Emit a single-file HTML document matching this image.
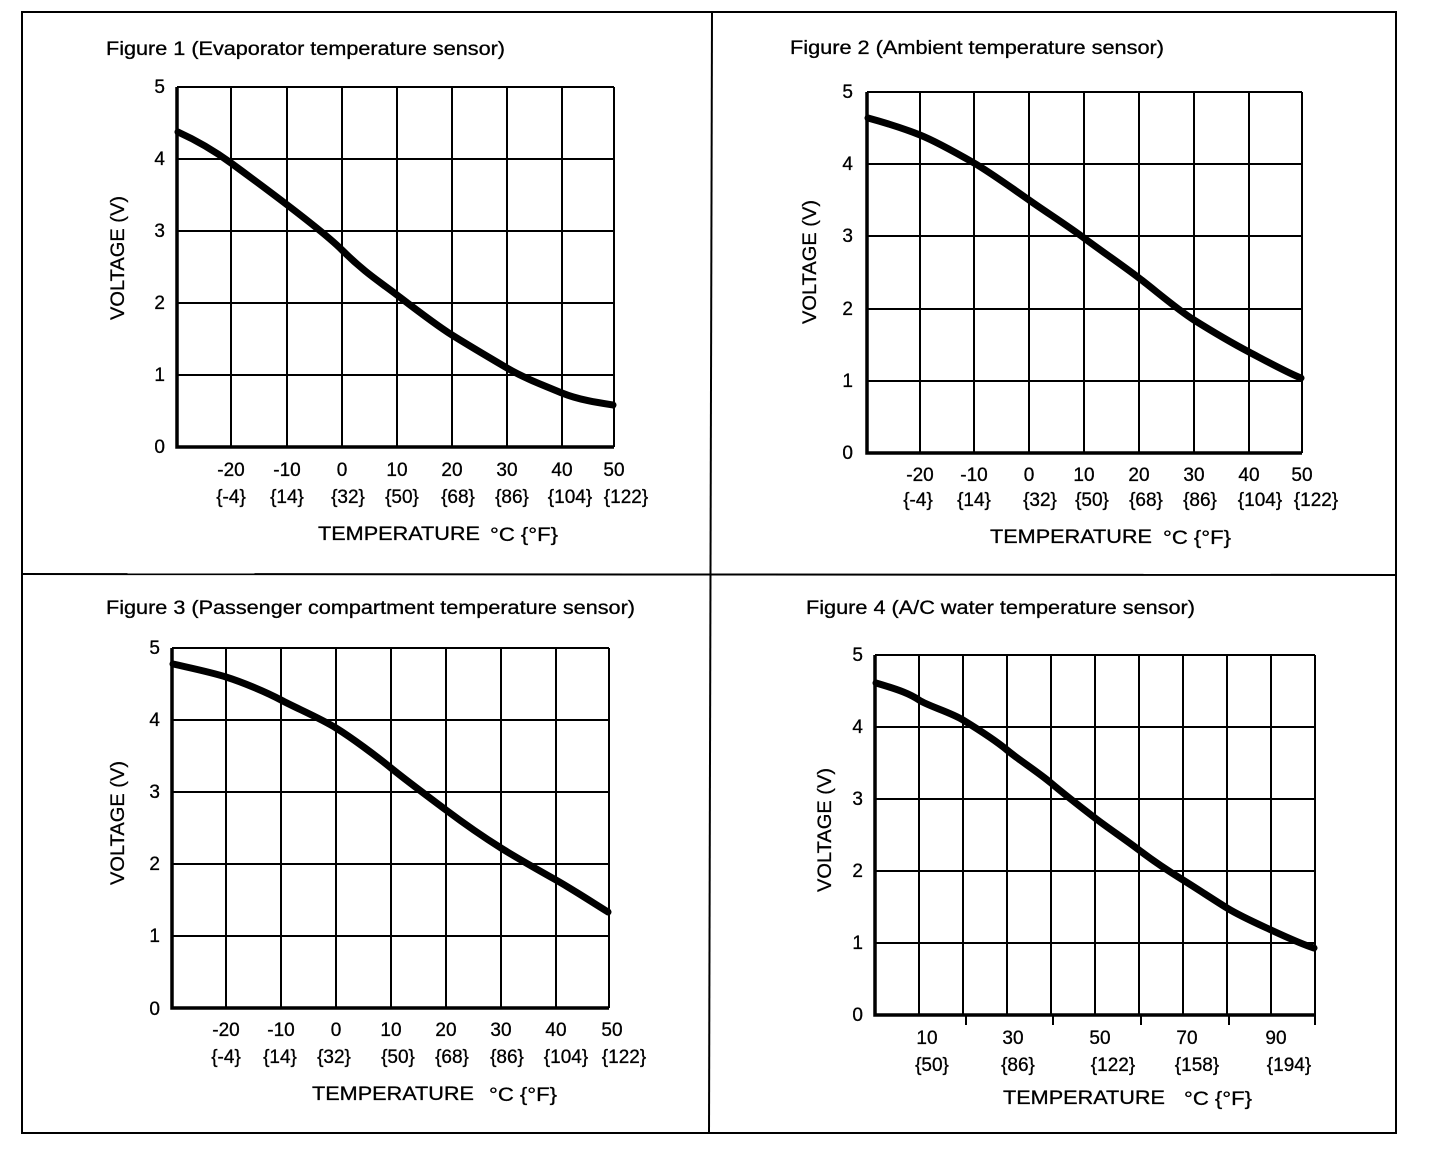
<!DOCTYPE html>
<html><head><meta charset="utf-8"><style>
html,body{margin:0;padding:0;background:#fff}
svg{display:block}
text{font-family:"Liberation Sans",Arial,sans-serif;font-size:19px;fill:#000;stroke:#000;stroke-width:0.3}
.g{stroke:#000;stroke-width:2;fill:none}
.a{stroke:#000;stroke-width:3.5;fill:none}
.c{stroke:#000;stroke-width:7;fill:none;stroke-linecap:round;stroke-linejoin:round}
</style></head><body>
<svg width="1440" height="1156" viewBox="0 0 1440 1156" xmlns="http://www.w3.org/2000/svg">
<rect x="22" y="12" width="1374" height="1121" fill="none" stroke="#000" stroke-width="2"/>
<line x1="712" y1="12" x2="709" y2="1133" stroke="#000" stroke-width="2"/>
<line x1="22" y1="574" x2="1396" y2="575" stroke="#000" stroke-width="2"/>

<!-- Figure 1 -->
<text x="106" y="55" textLength="399" lengthAdjust="spacingAndGlyphs">Figure 1 (Evaporator temperature sensor)</text>
<g class="g">
<path d="M177 87H614M177 159H614M177 231H614M177 303H614M177 375H614"/>
<path d="M231 87V447M287 87V447M342 87V447M397 87V447M452 87V447M507 87V447M562 87V447M614 87V447"/>
</g>
<path class="a" d="M177 87V447H614"/>
<path class="c" d="M178 132 C200 142,216 152,231 163 S320 228,342 250 S380 282,397 295 S436 325,452 335 S490 358,507 368 S545 386,562 393 S600 403,613 405"/>
<g text-anchor="end"><text x="165" y="93">5</text><text x="165" y="165">4</text><text x="165" y="237">3</text><text x="165" y="309">2</text><text x="165" y="381">1</text><text x="165" y="453">0</text></g>
<g text-anchor="middle">
<text x="231" y="476">-20</text><text x="287" y="476">-10</text><text x="342" y="476">0</text><text x="397" y="476">10</text><text x="452" y="476">20</text><text x="507" y="476">30</text><text x="562" y="476">40</text><text x="614" y="476">50</text>
<text x="231" y="503">{-4}</text><text x="287" y="503">{14}</text><text x="348" y="503">{32}</text><text x="402" y="503">{50}</text><text x="458" y="503">{68}</text><text x="512" y="503">{86}</text><text x="570" y="503">{104}</text><text x="626" y="503">{122}</text>
</g>
<text x="318" y="540" textLength="162" lengthAdjust="spacingAndGlyphs">TEMPERATURE</text><text x="490" y="541" textLength="68" lengthAdjust="spacingAndGlyphs">°C {°F}</text>
<text transform="translate(124,258) rotate(-90)" text-anchor="middle" textLength="124" lengthAdjust="spacingAndGlyphs">VOLTAGE (V)</text>

<!-- Figure 2 -->
<text x="790" y="54" textLength="374" lengthAdjust="spacingAndGlyphs">Figure 2 (Ambient temperature sensor)</text>
<g class="g">
<path d="M867 92H1302M867 164H1302M867 236H1302M867 309H1302M867 381H1302"/>
<path d="M920 92V453M974 92V453M1029 92V453M1084 92V453M1139 92V453M1194 92V453M1249 92V453M1302 92V453"/>
</g>
<path class="a" d="M867 92V453H1302"/>
<path class="c" d="M868 118 C890 124,905 129,920 135 S960 155,974 163 S1012 188,1029 200 S1068 226,1084 238 S1122 265,1139 278 S1178 310,1194 320 S1230 342,1249 352 S1288 373,1301 378"/>
<g text-anchor="end"><text x="853" y="98">5</text><text x="853" y="170">4</text><text x="853" y="242">3</text><text x="853" y="315">2</text><text x="853" y="387">1</text><text x="853" y="459">0</text></g>
<g text-anchor="middle">
<text x="920" y="481">-20</text><text x="974" y="481">-10</text><text x="1029" y="481">0</text><text x="1084" y="481">10</text><text x="1139" y="481">20</text><text x="1194" y="481">30</text><text x="1249" y="481">40</text><text x="1302" y="481">50</text>
<text x="918" y="506">{-4}</text><text x="974" y="506">{14}</text><text x="1040" y="506">{32}</text><text x="1092" y="506">{50}</text><text x="1146" y="506">{68}</text><text x="1200" y="506">{86}</text><text x="1260" y="506">{104}</text><text x="1316" y="506">{122}</text>
</g>
<text x="990" y="543" textLength="162" lengthAdjust="spacingAndGlyphs">TEMPERATURE</text><text x="1163" y="544" textLength="68" lengthAdjust="spacingAndGlyphs">°C {°F}</text>
<text transform="translate(816,262) rotate(-90)" text-anchor="middle" textLength="124" lengthAdjust="spacingAndGlyphs">VOLTAGE (V)</text>

<!-- Figure 3 -->
<text x="106" y="614" textLength="529" lengthAdjust="spacingAndGlyphs">Figure 3 (Passenger compartment temperature sensor)</text>
<g class="g">
<path d="M172 648H609M172 720H609M172 792H609M172 864H609M172 936H609"/>
<path d="M226 648V1008M281 648V1008M336 648V1008M391 648V1008M446 648V1008M501 648V1008M556 648V1008M609 648V1008"/>
</g>
<path class="a" d="M172 648V1008H609"/>
<path class="c" d="M173 664 C195 669,210 672,226 677 S266 692,281 700 S320 718,336 728 S375 755,391 768 S430 798,446 810 S485 838,501 848 S540 871,556 880 S595 904,608 912"/>
<g text-anchor="end"><text x="160" y="654">5</text><text x="160" y="726">4</text><text x="160" y="798">3</text><text x="160" y="870">2</text><text x="160" y="942">1</text><text x="160" y="1015">0</text></g>
<g text-anchor="middle">
<text x="226" y="1036">-20</text><text x="281" y="1036">-10</text><text x="336" y="1036">0</text><text x="391" y="1036">10</text><text x="446" y="1036">20</text><text x="501" y="1036">30</text><text x="556" y="1036">40</text><text x="612" y="1036">50</text>
<text x="226" y="1063">{-4}</text><text x="280" y="1063">{14}</text><text x="334" y="1063">{32}</text><text x="398" y="1063">{50}</text><text x="452" y="1063">{68}</text><text x="507" y="1063">{86}</text><text x="566" y="1063">{104}</text><text x="624" y="1063">{122}</text>
</g>
<text x="312" y="1100" textLength="162" lengthAdjust="spacingAndGlyphs">TEMPERATURE</text><text x="489" y="1101" textLength="68" lengthAdjust="spacingAndGlyphs">°C {°F}</text>
<text transform="translate(124,823) rotate(-90)" text-anchor="middle" textLength="124" lengthAdjust="spacingAndGlyphs">VOLTAGE (V)</text>

<!-- Figure 4 -->
<text x="806" y="614" textLength="389" lengthAdjust="spacingAndGlyphs">Figure 4 (A/C water temperature sensor)</text>
<g class="g">
<path d="M875 655H1315M875 727H1315M875 799H1315M875 871H1315M875 943H1315"/>
<path d="M919 655V1015M963 655V1015M1007 655V1015M1051 655V1015M1095 655V1015M1139 655V1015M1183 655V1015M1227 655V1015M1271 655V1015M1315 655V1015"/>
<path d="M966 1015V1025M1053 1015V1025M1141 1015V1025M1229 1015V1025M1315 1015V1025"/>
</g>
<path class="a" d="M875 655V1015H1315"/>
<path class="c" d="M876 683 C900 690,910 694,919 700 S950 712,963 720 S995 740,1007 750 S1038 772,1051 783 S1082 808,1095 818 S1126 840,1139 850 S1170 872,1183 880 S1214 900,1227 908 S1258 924,1271 930 S1304 945,1314 948"/>
<g text-anchor="end"><text x="863" y="661">5</text><text x="863" y="733">4</text><text x="863" y="805">3</text><text x="863" y="877">2</text><text x="863" y="949">1</text><text x="863" y="1021">0</text></g>
<g text-anchor="middle">
<text x="927" y="1044">10</text><text x="1013" y="1044">30</text><text x="1100" y="1044">50</text><text x="1187" y="1044">70</text><text x="1276" y="1044">90</text>
<text x="932" y="1071">{50}</text><text x="1018" y="1071">{86}</text><text x="1113" y="1071">{122}</text><text x="1197" y="1071">{158}</text><text x="1289" y="1071">{194}</text>
</g>
<text x="1003" y="1104" textLength="162" lengthAdjust="spacingAndGlyphs">TEMPERATURE</text><text x="1184" y="1105" textLength="68" lengthAdjust="spacingAndGlyphs">°C {°F}</text>
<text transform="translate(831,830) rotate(-90)" text-anchor="middle" textLength="124" lengthAdjust="spacingAndGlyphs">VOLTAGE (V)</text>
</svg>
</body></html>
